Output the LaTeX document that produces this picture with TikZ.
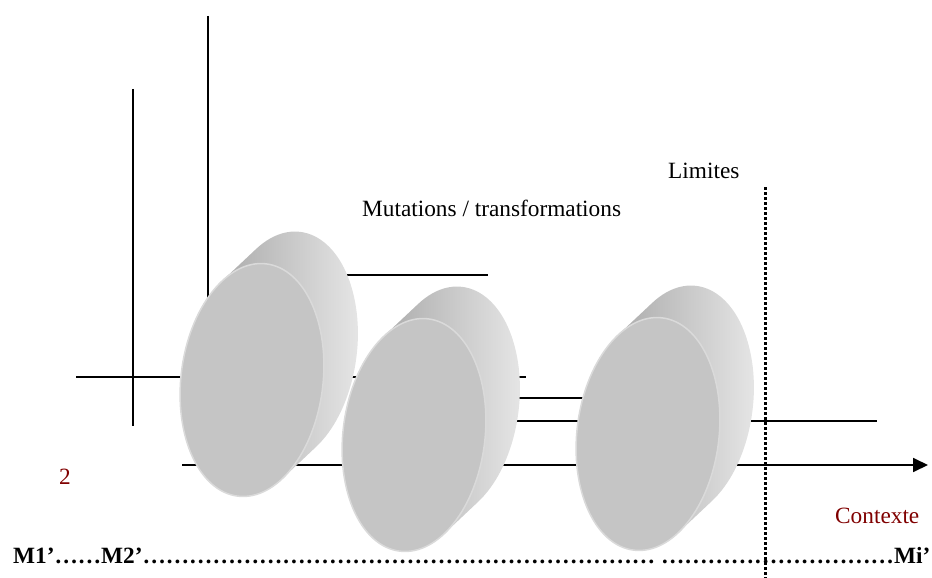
\documentclass[tikz,border=0pt]{standalone}
\usepackage{fontspec}
\setmainfont{Liberation Serif}
\usetikzlibrary{arrows.meta}
\definecolor{frontgray}{RGB}{197,197,197}
\definecolor{rimgray}{RGB}{218,218,218}
\definecolor{sidedark}{RGB}{172,172,172}
\definecolor{sidemid}{RGB}{222,222,222}
\definecolor{sidelight}{RGB}{233,233,233}
\definecolor{darkred}{RGB}{128,0,0}
\newcommand\ellrun[1]{\foreach\k in {1,...,#1}{…}}
\tikzset{
  axisline/.style={line width=1.8pt, black},
  limitline/.style={line width=3pt, dash pattern=on 3pt off 2pt},
  lbl/.style={anchor=base west, inner sep=0pt, font=\fontsize{23.3}{28}\selectfont},
  redlbl/.style={lbl, text=darkred},
  disc/.pic={
    \begin{scope}[rotate=-7]
      \shade[left color=sidedark, middle color=sidemid, right color=sidelight]
        (126.1:71 and 117) -- ++(29.85,35.9)
        arc[start angle=126.1, end angle=-53.9, x radius=71, y radius=117]
        -- (-53.9:71 and 117)
        arc[start angle=-53.9, end angle=126.1, x radius=71, y radius=117] -- cycle;
      \filldraw[fill=frontgray, draw=rimgray, line width=1.5pt]
        (0,0) ellipse[x radius=71, y radius=117];
    \end{scope}
  }
}
\begin{document}
\begin{tikzpicture}[x=1pt,y=1pt]
\useasboundingbox (0,0) rectangle (932,-578);
% endpoints
\coordinate (v1t) at (208,-16);  \coordinate (v1b) at (208,-377);
\coordinate (v2t) at (133,-89);  \coordinate (v2b) at (133,-426);
\coordinate (h1l) at (76,-377);  \coordinate (h1r) at (526,-377);
\coordinate (h2l) at (300,-275); \coordinate (h2r) at (488,-275);
\coordinate (h3l) at (470,-398); \coordinate (h3r) at (600,-398);
\coordinate (h4l) at (470,-421); \coordinate (h4r) at (877,-421);
\coordinate (al) at (182,-465);  \coordinate (ar) at (928,-465);
\coordinate (lt) at (765,-187);  \coordinate (lb) at (765,-580);
% axes behind the discs
\draw[axisline] (v1t) -- (v1b);
\draw[axisline] (v2t) -- (v2b);
\draw[axisline] (h1l) -- (h1r);
\draw[axisline] (h2l) -- (h2r);
\draw[axisline] (h3l) -- (h3r);
\draw[axisline] (h4l) -- (h4r);
\draw[axisline, -{Triangle[length=15pt,width=14pt]}] (al) -- (ar);
% discs
\pic (d1) at (252,-380) {disc};
\pic (d2) at (414,-435) {disc};
\pic (d3) at (648,-434) {disc};
% limit
\draw[limitline] (lt) -- (lb);
% labels
\node[lbl] (limites) at (668,-178) {Limites};
\node[lbl] (mut) at (362,-216) {Mutations / transformations};
\node[redlbl] (two) at (59,-484) {2};
\node[redlbl] (ctx) at (835,-523) {Contexte};
\node[lbl, font=\fontsize{23.3}{28}\selectfont\bfseries] (bottom) at (13,-563)
  {M1’……M2’\ellrun{22} \ellrun{10}Mi’};
\end{tikzpicture}
\end{document}
